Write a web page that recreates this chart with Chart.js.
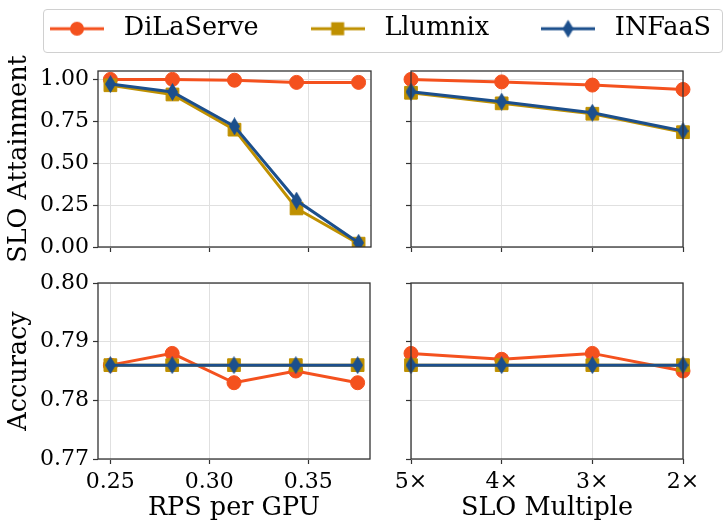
<!DOCTYPE html>
<html>
<head>
<meta charset="utf-8">
<script src="https://cdn.jsdelivr.net/npm/chart.js@4.4.1/dist/chart.umd.min.js"></script>
<style>
html, body { margin: 0; padding: 0; background: #fff; overflow: hidden; }
#wrap { position: relative; width: 728px; height: 528px; }
#wrap canvas { position: absolute; }
#legendFrame { position: absolute; left: 43px; top: 9px; width: 678px; height: 42px;
  border: 1px solid #d0d0d0; border-radius: 4px; }
</style>
</head>
<body>
<div id="wrap">
  <div id="legendFrame"></div>
  <canvas id="tl" width="728" height="528" style="left:0;top:0"></canvas>
  <canvas id="tr" width="728" height="528" style="left:0;top:0"></canvas>
  <canvas id="bl" width="728" height="528" style="left:0;top:0"></canvas>
  <canvas id="br" width="728" height="528" style="left:0;top:0"></canvas>
  <canvas id="lg" width="780" height="240" style="left:-13px;top:-29px"></canvas>
</div>
<script>
// x values / tick labels
var rpsValues = [0.25, 0.28125, 0.3125, 0.34375, 0.375];
var rpsTicks = [0.25, 0.30, 0.35];
var sloLabels = ['5×', '4×', '3×', '2×'];
var attainTicks = [0, 0.25, 0.50, 0.75, 1.00];
var accTicks = [0.77, 0.78, 0.79, 0.80];
var seriesNames = ['DiLaServe', 'Llumnix', 'INFaaS'];

// SLO attainment vs RPS per GPU
var dilaAttainRps = [1.0, 1.0, 0.995, 0.982, 0.982];
var llumAttainRps = [0.965, 0.91, 0.70, 0.23, 0.02];
var infaAttainRps = [0.972, 0.925, 0.72, 0.277, 0.025];

// SLO attainment vs SLO multiple
var dilaAttainSlo = [1.0, 0.985, 0.966, 0.94];
var llumAttainSlo = [0.92, 0.857, 0.795, 0.685];
var infaAttainSlo = [0.926, 0.867, 0.801, 0.692];

// accuracy vs RPS per GPU
var dilaAccRps = [0.786, 0.788, 0.783, 0.785, 0.783];
var llumAccRps = [0.786, 0.786, 0.786, 0.786, 0.786];
var infaAccRps = [0.786, 0.786, 0.786, 0.786, 0.786];

// accuracy vs SLO multiple
var dilaAccSlo = [0.788, 0.787, 0.788, 0.785];
var llumAccSlo = [0.786, 0.786, 0.786, 0.786];
var infaAccSlo = [0.786, 0.786, 0.786, 0.786];

var FONT = "'DejaVu Serif', serif";
var SPINE = '#333333';
var GRID = '#e0e0e0';
var tickFont = { family: FONT, size: 22 };
var titleFont = { family: FONT, size: 25.5 };

Chart.defaults.font.family = FONT;
Chart.defaults.color = '#000';

function thinDiamond(w, h, color) {
  var c = document.createElement('canvas');
  c.width = w; c.height = h;
  var g = c.getContext('2d');
  g.fillStyle = color;
  g.beginPath();
  g.moveTo(w / 2, 0); g.lineTo(w, h / 2); g.lineTo(w / 2, h); g.lineTo(0, h / 2);
  g.closePath();
  g.fill();
  return c;
}

var styles = {
  DiLaServe: { color: '#f4511e', pointStyle: 'circle', radius: 7, order: 2 },
  Llumnix:   { color: '#bf9000', pointStyle: 'rect', radius: 9, order: 1 },
  INFaaS:    { color: '#1c4f8c', pointStyle: thinDiamond(11, 18, '#1c4f8c'), radius: 9, order: 0 }
};

// legend handle: short line with the marker in the middle
function handle(name) {
  var s = styles[name];
  var c = document.createElement('canvas');
  c.width = 54; c.height = 22;
  var g = c.getContext('2d');
  g.strokeStyle = s.color; g.fillStyle = s.color; g.lineWidth = 3;
  g.beginPath(); g.moveTo(0, 11); g.lineTo(54, 11); g.stroke();
  if (name === 'DiLaServe') {
    g.beginPath(); g.arc(27, 11, 7, 0, Math.PI * 2); g.fill();
  } else if (name === 'Llumnix') {
    g.fillRect(27 - 6.5, 11 - 6.5, 13, 13);
  } else {
    g.drawImage(s.pointStyle, 27 - 5.5, 2);
  }
  return c;
}

function ds(name, data) {
  var s = styles[name];
  return {
    label: name, data: data,
    borderColor: s.color, backgroundColor: s.color, borderWidth: 3,
    pointStyle: s.pointStyle, pointRadius: s.radius,
    pointBackgroundColor: s.color, pointBorderColor: s.color, pointBorderWidth: 1,
    order: s.order, tension: 0
  };
}

function xy(ys) {
  return rpsValues.map(function (x, i) { return { x: x, y: ys[i] }; });
}

function fixedTicks(vals) {
  return function (scale) { scale.ticks = vals.map(function (v) { return { value: v }; }); };
}

var gridOpts = { color: GRID, lineWidth: 1, tickLength: 5, tickColor: SPINE, tickWidth: 1.2 };

function yAxis(min, max, vals, showLabels, title, width) {
  return {
    type: 'linear', min: min, max: max,
    afterBuildTicks: fixedTicks(vals),
    afterFit: function (s) { s.width = width; },
    border: { display: false },
    grid: gridOpts,
    ticks: { display: showLabels, font: tickFont, color: '#000', padding: 4,
             callback: function (v) { return v.toFixed(2); } },
    title: { display: !!title, text: title || '', font: titleFont, color: '#000',
             padding: { top: 4, bottom: 0 } }
  };
}

var rpsPad = (rpsValues[rpsValues.length - 1] - rpsValues[0]) * 0.05;

function xRps(showLabels, title, height) {
  return {
    type: 'linear',
    min: rpsValues[0] - rpsPad, max: rpsValues[rpsValues.length - 1] + rpsPad,
    afterBuildTicks: fixedTicks(rpsTicks),
    afterFit: function (s) { s.height = height; },
    border: { display: false },
    grid: gridOpts,
    ticks: { display: showLabels, font: tickFont, color: '#000', padding: 5, maxRotation: 0,
             callback: function (v) { return v.toFixed(2); } },
    title: { display: !!title, text: title || '', font: titleFont, color: '#000',
             padding: { top: 0, bottom: 4 } }
  };
}

function xSlo(showLabels, title, height) {
  return {
    type: 'category', offset: false,
    afterFit: function (s) { s.height = height; },
    border: { display: false },
    grid: Object.assign({ offset: false }, gridOpts),
    ticks: { display: showLabels, font: tickFont, color: '#000', padding: 5, maxRotation: 0 },
    title: { display: !!title, text: title || '', font: titleFont, color: '#000',
             padding: { top: 0, bottom: 4 } }
  };
}

var frame = {
  id: 'frame',
  afterDatasetsDraw: function (chart) {
    var a = chart.chartArea, ctx = chart.ctx;
    ctx.save();
    ctx.strokeStyle = SPINE;
    ctx.lineWidth = 1.3;
    ctx.strokeRect(a.left, a.top, a.right - a.left, a.bottom - a.top);
    ctx.restore();
  }
};

function plot(id, data, xScale, yScale, pad) {
  return new Chart(document.getElementById(id), {
    type: 'line',
    data: data,
    options: {
      responsive: false, animation: false, events: [],
      layout: { padding: pad },
      scales: { x: xScale, y: yScale },
      plugins: { legend: { display: false }, tooltip: { enabled: false } }
    },
    plugins: [frame]
  });
}

plot('tl', { datasets: [ds('DiLaServe', xy(dilaAttainRps)), ds('Llumnix', xy(llumAttainRps)), ds('INFaaS', xy(infaAttainRps))] },
  xRps(false, '', 10), yAxis(0, 1.05, attainTicks, true, 'SLO Attainment', 98),
  { left: 0, right: 357, top: 71, bottom: 271 });

plot('tr', { labels: sloLabels, datasets: [ds('DiLaServe', dilaAttainSlo), ds('Llumnix', llumAttainSlo), ds('INFaaS', infaAttainSlo)] },
  xSlo(false, '', 10), yAxis(0, 1.05, attainTicks, false, '', 10),
  { left: 401, right: 45, top: 71, bottom: 271 });

plot('bl', { datasets: [ds('DiLaServe', xy(dilaAccRps)), ds('Llumnix', xy(llumAccRps)), ds('INFaaS', xy(infaAccRps))] },
  xRps(true, 'RPS per GPU', 69), yAxis(0.77, 0.80, accTicks, true, 'Accuracy', 98),
  { left: 0, right: 358, top: 283, bottom: 0 });

plot('br', { labels: sloLabels, datasets: [ds('DiLaServe', dilaAccSlo), ds('Llumnix', llumAccSlo), ds('INFaaS', infaAccSlo)] },
  xSlo(true, 'SLO Multiple', 69), yAxis(0.77, 0.80, accTicks, false, '', 10),
  { left: 401, right: 45, top: 283, bottom: 0 });

// shared legend
var handles = {};
seriesNames.forEach(function (n) { handles[n] = handle(n); });

new Chart(document.getElementById('lg'), {
  type: 'line',
  data: { datasets: seriesNames.map(function (n) { return { label: n, data: [] }; }) },
  options: {
    responsive: false, animation: false, events: [],
    layout: { padding: 0 },
    scales: { x: { display: false }, y: { display: false } },
    plugins: {
      tooltip: { enabled: false },
      legend: {
        display: true, position: 'top',
        labels: {
          usePointStyle: true, pointStyleWidth: 68, padding: 45,
          font: { family: FONT, size: 25.5 }, color: '#000',
          generateLabels: function () {
            return seriesNames.map(function (n, i) {
              return { text: n, pointStyle: handles[n], fillStyle: styles[n].color,
                       strokeStyle: styles[n].color, lineWidth: 0, hidden: false, datasetIndex: i };
            });
          }
        }
      }
    }
  }
});
</script>
</body>
</html>
